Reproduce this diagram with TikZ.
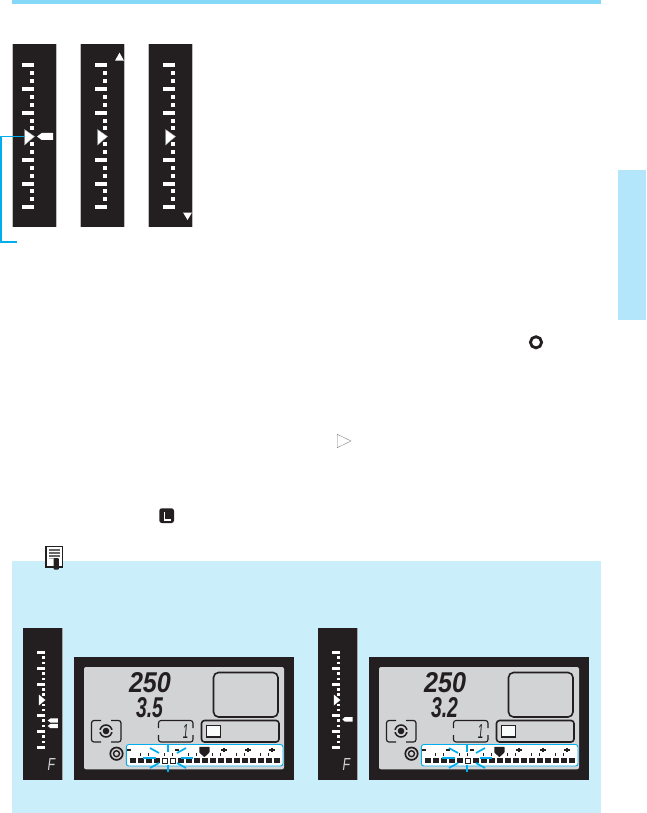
\documentclass[tikz,border=0pt]{standalone}
\usepackage{graphicx}
\usepackage{fontspec}
\setmainfont{Liberation Sans}
\definecolor{ink}{HTML}{231F20}
\definecolor{barblue}{HTML}{86D8F9}
\definecolor{tabblue}{HTML}{B3E5FB}
\definecolor{boxblue}{HTML}{CBEEFB}
\definecolor{cyanline}{HTML}{00AEEF}
\definecolor{lcdgrey}{HTML}{D1D3D4}
\tikzset{
  panel/.style={fill=ink,draw=none},
  tick/.style={fill=white,draw=none},
  lcdline/.style={draw=ink,line width=1.5pt,rounded corners=3pt},
  ray/.style={draw=cyanline,line width=1.7pt},
  digit/.style={inner sep=0pt,outer sep=0pt,text=ink}
}
% tall scale panel, #1 = left edge, #2 = shift of the ticks
\newcommand{\scalepanel}[2]{%
  \begin{scope}[xshift=#1 pt]
    \fill[panel] (0,44) rectangle (45.5,227);
    \fill[gray!50] (0,44) rectangle (0.8,227);
    \fill[gray!50] (44.9,44) rectangle (45.6,227);
    \begin{scope}[xshift=#2 pt]
    \foreach \y in {65,89,113,160,184,207}
      \fill[tick] (10.5,\y-2.2) rectangle (22.5,\y+2.2);
    \foreach \y in {73.3,81,97,105,121,128,144,152,168,176,191,199}
      \fill[tick] (18.5,\y-2) rectangle (22.5,\y+2);
    \fill[white,draw=gray!70,line width=.4pt] (13,129.5) -- (23,136.5) -- (13,145) -- cycle;
    \end{scope}
  \end{scope}}
% narrow strip in the blue box
\newcommand{\vstrip}[1]{%
  \begin{scope}[xshift=#1 pt]
    \fill[panel] (23,628) rectangle (62.5,780);
    \fill[gray!70] (62,628) rectangle (62.8,780);
    \foreach \y in {652.3,668.3,684,715.3,731.3,747}
      \fill[tick] (37,\y-1.5) rectangle (45,\y+1.5);
    \foreach \y in {657.6,662.9,673.6,678.9,689.3,694.6,705,710,720.6,725.9,736.6,741.9}
      \fill[tick] (42.4,\y-1.2) rectangle (45,\y+1.2);
    \fill[white] (38.8,694.5) -- (45.4,700) -- (38.8,705.5) -- cycle;
  \end{scope}}
% LCD, #1 dx, #2 lower digits, #3 open squares, #4 extra bars
\newcommand{\lcdpanel}[4]{%
  \begin{scope}[xshift=#1 pt]
    \fill[panel] (74,657) rectangle (294,780);
    \fill[lcdgrey,rounded corners=2pt] (84,667) rectangle (284,769.3);
    \node[digit,anchor=north west] at (129,672) {\resizebox{42pt}{20pt}{\bfseries\itshape 250}};
    \node[digit,anchor=north west] at (136,697.7) {\resizebox{27pt}{20pt}{\bfseries\itshape #2}};
    \draw[lcdline,line width=1.6pt,rounded corners=5pt] (213.5,672.5) rectangle (278,717);
    \draw[lcdline,line width=1.6pt] (201.5,720.5) rectangle (279,742);
    \fill[white!90!lcdgrey] (206.5,725.5) rectangle (220.5,737);
    \draw[ink,line width=.7pt] (206.5,725.5) -- (220.5,725.5) -- (220.5,737);
    \draw[ink,line width=1.5pt] (206.5,725) -- (206.5,737) -- (221,737);
    % frame around the 1
    \draw[ink,line width=1.1pt,rounded corners=2.5pt] (158.5,728) -- (158.5,720.5) -- (193,720.5) -- (193,728);
    \draw[ink,line width=1.1pt,rounded corners=2.5pt] (158.5,735) -- (158.5,742) -- (193,742) -- (193,735);
    \node[digit,anchor=center] at (185.5,731) {\resizebox{5.5pt}{14pt}{\itshape 1}};
    % metering icon
    \draw[ink,line width=1.2pt,rounded corners=2.5pt] (101,720.5) -- (91.5,720.5) -- (91.5,742) -- (101,742);
    \draw[ink,line width=1.2pt,rounded corners=2.5pt] (111,720.5) -- (121,720.5) -- (121,742) -- (111,742);
    \draw[ink,line width=1.5pt] (106,731) circle[radius=6pt];
    \fill[lcdgrey] (98.5,730) rectangle (113.5,732);
    \fill[ink] (106,731) circle[radius=3.3pt];
    % double ring
    \draw[ink,line width=1.7pt] (116.5,753.7) circle[radius=6.2pt];
    \draw[ink,line width=1.4pt] (116.5,753.7) circle[radius=3pt];
    % exposure level strip
    \draw[cyanline,fill=white,line width=.9pt,rounded corners=2.5pt] (126.3,744.5) rectangle (283,766);
    \foreach \i in {0,...,18}
      \fill[ink] ({130+8*\i},758) rectangle ({136+8*\i},763.3);
    \foreach \i in {#3}
      \draw[ink,fill=white,line width=.7pt] ({130.4+8*\i},758.4) rectangle ({135.6+8*\i},763);
    \foreach \x in {140.5,148.5,164.5,172.5,188.5,196.5,212.5,220.5,236.5,244.5,260.5,268.5} {
      \fill[ink] (\x-.9,753.5) rectangle (\x+.9,755.3);
      \fill[ink] (\x-.4,752.6) rectangle (\x+.4,756.2);
    }
    \foreach \x in {#4}
      \fill[ink] (\x-2.4,748.6) rectangle (\x+2.4,750.9);
    \foreach \x in {224,248,272} {
      \fill[ink] (\x-2.6,748.7) rectangle (\x+2.6,750.9);
      \fill[ink] (\x-1.2,747.6) rectangle (\x+1.2,752);
    }
    \fill[ink,rounded corners=.6pt] (199.3,746.8) -- (209.5,746.8) -- (209.5,752.5) -- (204.4,757.2) -- (199.3,752.5) -- cycle;
  \end{scope}}
% burst, #1 centre x
\newcommand{\burst}[1]{%
  \begin{scope}[xshift=#1 pt,yshift=-758pt]
    \draw[ray] (0,-13) -- (0,-6);
    \draw[ray] (0,6.5) -- (0,14);
    \draw[ray] (-25,0) -- (-12.5,0);
    \draw[ray] (12.5,0) -- (25,0);
    \draw[ray] (-18,-10) -- (-9,-5);
    \draw[ray] (18,-10) -- (9,-5);
    \draw[ray] (-18,10) -- (-9,5);
    \draw[ray] (18,10) -- (9,5);
  \end{scope}}
\begin{document}
\begin{tikzpicture}[x=1pt,y=-1pt]
  \useasboundingbox (0,0) rectangle (646,813);
  \fill[white] (0,0) rectangle (646,813);
  % header bar and side tab
  \fill[barblue] (12,0) rectangle (601,4);
  \fill[tabblue] (618,170) rectangle (646,320);
  % three scale panels
  \scalepanel{11.5}{0}
  \scalepanel{79.5}{5}
  \scalepanel{147.5}{5}
  % exposure arrow on panel 1
  \fill[white] (37,136.5) -- (41.7,133) -- (53,133) -- (53,140) -- (41.7,140) -- cycle;
  % up and down triangles
  \fill[white] (119.5,52.7) -- (124,60.7) -- (115,60.7) -- cycle;
  \fill[white] (183,212.5) -- (192,212.5) -- (187.5,220) -- cycle;
  % leader
  \coordinate (leadTip) at (24.5,136.5);
  \coordinate (leadCorner) at (1,136.5);
  \coordinate (leadDown) at (1,242);
  \coordinate (leadEnd) at (17,242);
  \draw[cyanline,line width=1.2pt] (leadTip) -- (leadCorner) -- (leadDown) -- (leadEnd);
  % inline icons
  \draw[ink,line width=2.8pt] (536,342.3) circle[radius=5.6pt];
  \draw[gray,line width=.4pt] (337.2,434.3) -- (351,441) -- (337.2,447.7) -- cycle;
  \fill[ink,rounded corners=2.5pt] (159.3,508.3) rectangle (174,523);
  \fill[white] (163.5,511.7) rectangle (165.2,521);
  \fill[white] (163.5,519.4) rectangle (170.7,521);
  % blue note box
  \fill[boxblue] (12,561) rectangle (601,813);
  % note icon
  \draw[ink,fill=white,line width=1.2pt] (46,546.6) rectangle (62.3,567);
  \fill[gray!80!black] (49,549) rectangle (59.5,550.6);
  \fill[gray!80!black] (49,552.2) rectangle (59.5,553.6);
  \fill[gray!80!black] (49,555.2) rectangle (59.5,556.6);
  \fill[gray!60] (49,558.2) rectangle (55,559.4);
  \fill[ink,rounded corners=.8pt] (53.5,558) rectangle (58.8,569.5);
  % strips
  \vstrip{0}
  \vstrip{295}
  % F labels
  \node[digit,text=gray!35,anchor=center] at (51.3,764) {\resizebox{7.5pt}{12pt}{\itshape F}};
  \node[digit,text=gray!35,anchor=center] at (346.3,764) {\resizebox{7.5pt}{12pt}{\itshape F}};
  % arrows on the strips
  \fill[white] (47.7,720.5) -- (50.5,718.4) -- (57.8,718.4) -- (57.8,722.6) -- (50.5,722.6) -- cycle;
  \fill[white] (47.7,726) -- (50.5,723.8) -- (57.8,723.8) -- (57.8,728.2) -- (50.5,728.2) -- cycle;
  \fill[white] (342.3,719.3) -- (345,717) -- (352.7,717) -- (352.7,721.7) -- (345,721.7) -- cycle;
  % LCD panels
  \lcdpanel{0}{3.5}{4,5}{129,177}
  \burst{168}
  \lcdpanel{295}{3.2}{5}{129,153,177}
  \burst{467}
\end{tikzpicture}
\end{document}
